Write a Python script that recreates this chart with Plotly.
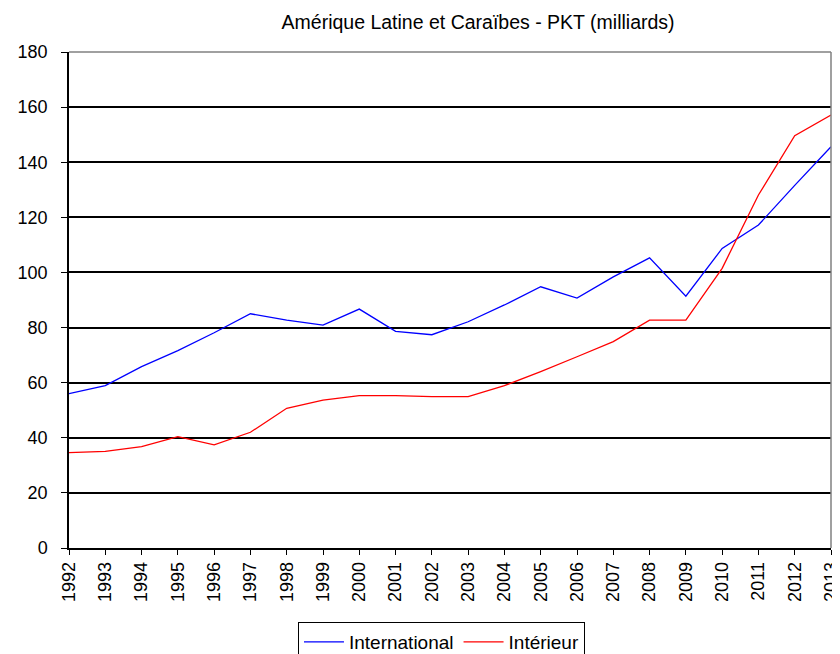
import plotly.graph_objects as go

years = list(range(1992, 2014))

international = [56.0, 58.9, 65.8, 71.6, 78.1, 85.0, 82.7, 80.9, 86.7, 78.6, 77.4,
                 82.1, 88.2, 94.8, 90.7, 98.4, 105.3, 91.4, 108.7, 117.2, 131.6, 145.6]
interieur = [34.6, 35.1, 36.8, 40.4, 37.4, 42.0, 50.7, 53.7, 55.3, 55.3, 54.9,
             54.9, 58.9, 64.0, 69.4, 74.9, 82.7, 82.7, 101.5, 128.1, 149.6, 157.1]

y_ticks = list(range(0, 181, 20))

fig = go.Figure()

fig.add_trace(go.Scatter(
    x=years, y=international, mode="lines", name="International",
    line=dict(color="#0000ff", width=1.3),
))
fig.add_trace(go.Scatter(
    x=years, y=interieur, mode="lines", name="Intérieur",
    line=dict(color="#ff0000", width=1.3),
))

# grey frame on top and right of the plot area
fig.add_shape(type="line", xref="paper", yref="paper", x0=0, x1=1, y0=1, y1=1,
              line=dict(color="#808080", width=1.5))
fig.add_shape(type="line", xref="paper", yref="paper", x0=1, x1=1, y0=0, y1=1,
              line=dict(color="#808080", width=1.5))

# page body has an 8px margin, figure sized to the remaining window
fig.update_layout(
    width=832, height=646,
    margin=dict(l=61, r=9, t=44, b=106),
    paper_bgcolor="white", plot_bgcolor="white",
    font=dict(family="Liberation Sans, Arial, sans-serif", size=18, color="black"),
    title=dict(text="Amérique Latine et Caraïbes - PKT (milliards)",
               x=0.565, xanchor="center", y=0.978, yanchor="middle",
               font=dict(size=19.5)),
    showlegend=True,
    legend=dict(orientation="h", xref="container", yref="container",
                x=0.521, xanchor="center", y=0.0495, yanchor="top",
                bordercolor="black", borderwidth=1, font=dict(size=19),
                itemwidth=40, tracegroupgap=0),
)

fig.update_xaxes(
    range=[1992, 2013], tickvals=years, ticktext=[str(y) for y in years],
    tickangle=-90, showgrid=False, zeroline=False,
    showline=True, linecolor="black", linewidth=1.5,
    ticks="outside", ticklen=5, tickcolor="black", tickwidth=1.2,
    ticklabeloverflow="allow", automargin=False,
)
fig.update_yaxes(
    range=[0, 180], tickvals=y_ticks, showgrid=True, gridcolor="black", gridwidth=1.5,
    zeroline=False, showline=True, linecolor="black", linewidth=1.5,
    ticks="outside", ticklen=6, tickcolor="black", tickwidth=1.2,
    ticklabelstandoff=10, automargin=False,
)

fig.write_html("out.html")
